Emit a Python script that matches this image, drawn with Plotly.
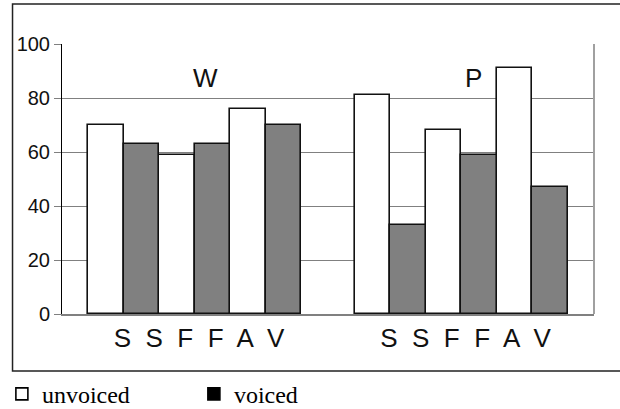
import plotly.graph_objects as go

# ---- data ----
groups = ["W", "P"]
phonemes = ["S", "S", "F", "F", "A", "V"]
voicing = ["unvoiced", "voiced", "unvoiced", "voiced", "unvoiced", "voiced"]
W_values = [70, 63, 59, 63, 76, 70]
P_values = [81, 33, 68, 59, 91, 47]
y_ticks = [0, 20, 40, 60, 80, 100]

group_values = {"W": W_values, "P": P_values}
group_start = {"W": 0.0, "P": 6.99 + 0.5}

colors = {"unvoiced": "#ffffff", "voiced": "#808080"}
legend_colors = {"unvoiced": "#ffffff", "voiced": "#000000"}

fig = go.Figure()
for v in ["unvoiced", "voiced"]:
    xs, ys = [], []
    for g in groups:
        for i, (ph, vv) in enumerate(zip(phonemes, voicing)):
            if vv == v:
                xs.append(group_start[g] + i)
                ys.append(group_values[g][i])
    fig.add_trace(go.Bar(
        x=xs, y=ys, name=v, width=1, showlegend=False, legendgroup=v,
        marker=dict(color=colors[v], line=dict(color="#111111", width=1.6)),
    ))
# legend entries (legend swatches: hollow square / solid black square)
for v in ["unvoiced", "voiced"]:
    fig.add_trace(go.Bar(
        x=[None], y=[None], name=v, legendgroup=v, showlegend=True,
        marker=dict(color=legend_colors[v], line=dict(color="#000000", width=1.6)),
    ))

tick_positions = [group_start[g] + (len(phonemes) - 1) / 2 + 0.12 for g in groups]
tick_text = ["  ".join(phonemes) for _ in groups]

sans = "Liberation Sans"
serif = "Liberation Serif"

fig.update_layout(
    width=620, height=409,
    margin=dict(l=62, r=26, t=44, b=95, autoexpand=False),
    paper_bgcolor="white", plot_bgcolor="white",
    bargap=0, barmode="overlay",
    showlegend=True,
    legend=dict(
        orientation="h", x=-0.113, xanchor="left", y=-0.214, yanchor="top",
        font=dict(family=serif, size=24, color="#000000"),
        entrywidth=147, entrywidthmode="pixels",
        bgcolor="rgba(0,0,0,0)",
    ),
    xaxis=dict(
        range=[-1.23, 13.72], showgrid=False, zeroline=False,
        tickvals=tick_positions, ticktext=tick_text, ticks="",
        tickfont=dict(family=sans, size=26, color="#111111"),
        showline=True, linecolor="#808080", linewidth=1.5,
        ticklabelstandoff=0,
    ),
    yaxis=dict(
        range=[0, 100], tickvals=y_ticks, showgrid=True,
        gridcolor="#808080", gridwidth=1, zeroline=False,
        showline=True, linecolor="#000000", linewidth=1,
        ticks="outside", ticklen=7, tickcolor="#808080", tickwidth=1,
        tickfont=dict(family=sans, size=20, color="#111111"),
    ),
)

# group titles
for g, xg in zip(groups, [2.79, 10.34]):
    fig.add_annotation(x=xg, y=87.4, text=g, showarrow=False,
                       font=dict(family=sans, size=26, color="#111111"),
                       xanchor="center", yanchor="middle")

# plot-area right border
fig.add_shape(type="line", xref="paper", yref="paper", x0=1, x1=1, y0=0, y1=1,
              line=dict(color="#a0a0a0", width=2))
# outer frame (top, left, bottom)
fig.add_shape(type="path", xref="paper", yref="paper",
              path="M 1.1 1.148 L -0.093 1.148 L -0.093 -0.211 L 1.1 -0.211",
              line=dict(color="#222222", width=1.5))

fig.write_html("out.html", config={"displayModeBar": False},
               post_script="document.body.style.margin='0';")
